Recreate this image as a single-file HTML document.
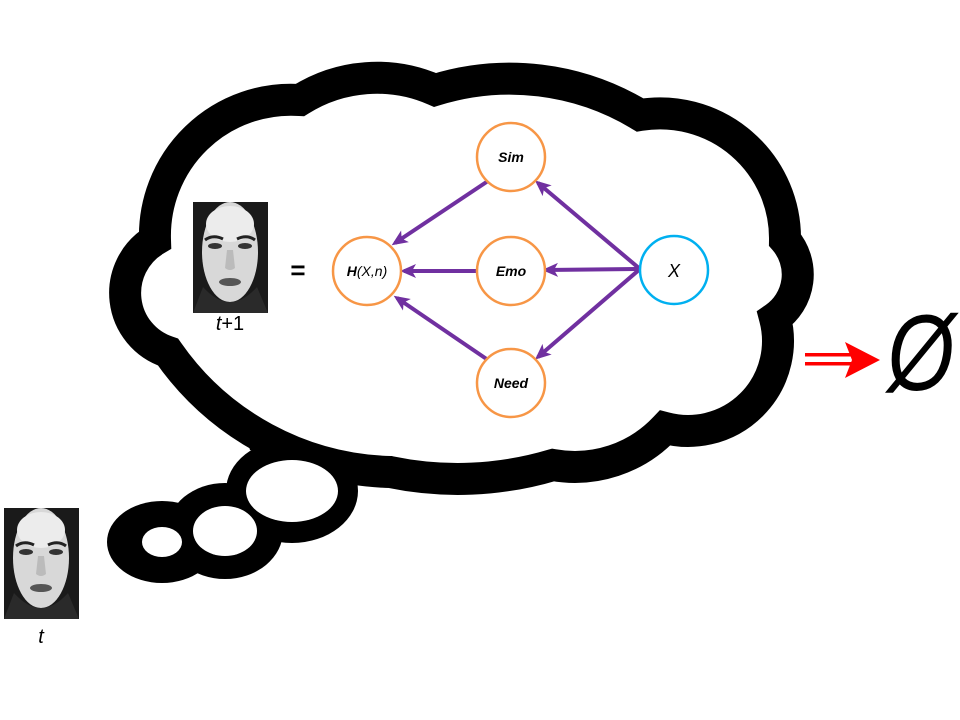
<!DOCTYPE html>
<html><head><meta charset="utf-8"><style>
html,body{margin:0;padding:0;background:#fff;}
svg{display:block;}
text{font-family:"Liberation Sans",sans-serif;}
</style></head><body>
<svg width="960" height="720" viewBox="0 0 960 720" xmlns="http://www.w3.org/2000/svg">
<defs>
<marker id="ah2" markerWidth="16" markerHeight="16" refX="12" refY="8" orient="auto" markerUnits="userSpaceOnUse" viewBox="0 0 16 16">
<path d="M0,1 L16,8 L0,15 L4,8 Z" fill="#7030a0"/>
</marker>
<g id="face">
<rect x="0" y="0" width="75" height="111" fill="#1a1a1a"/>
<ellipse cx="37" cy="50" rx="28" ry="50" fill="#d8d8d8"/>
<ellipse cx="37" cy="22" rx="24" ry="18" fill="#ececec"/>
<path d="M12,38 Q20,32 30,37" stroke="#222" stroke-width="3" fill="none"/>
<path d="M44,37 Q54,32 62,38" stroke="#222" stroke-width="3" fill="none"/>
<ellipse cx="22" cy="44" rx="7" ry="3" fill="#333"/>
<ellipse cx="52" cy="44" rx="7" ry="3" fill="#333"/>
<path d="M34,48 L32,66 Q37,70 42,66 L40,48" fill="#bbb"/>
<ellipse cx="37" cy="80" rx="11" ry="4" fill="#555"/>
<path d="M10,85 Q37,115 64,85 L75,111 L0,111Z" fill="#2a2a2a"/>
</g>
</defs>

<!-- tail black -->
<g fill="#000">
<ellipse cx="292" cy="491" rx="66" ry="52"/>
<ellipse cx="225" cy="531" rx="58" ry="48"/>
<ellipse cx="162" cy="542" rx="55" ry="41"/>
<polygon points="235,400 380,460 330,470 250,450"/>
</g>
<!-- cloud -->
<path d="M155,240 A136,136 0 0 1 300,100 A144,144 0 0 1 435,90 A252,252 0 0 1 640,115 A125,125 0 0 1 785,240 A53,53 0 0 1 775,318 A90,90 0 0 1 665,428 A124,124 0 0 1 553,465 A333,333 0 0 1 390,472 A280,280 0 0 1 168,352 A62,62 0 0 1 155,240 Z" fill="#fff" stroke="#000" stroke-width="32" stroke-linejoin="miter"/>
<g fill="#fff">
<ellipse cx="292" cy="491" rx="46" ry="31"/>
<ellipse cx="225" cy="531" rx="32" ry="25"/>
<ellipse cx="162" cy="542" rx="20" ry="15"/>
</g>

<!-- faces -->
<use href="#face" x="193" y="202"/>
<use href="#face" x="4" y="508"/>
<text x="230" y="330" font-size="20" text-anchor="middle"><tspan font-style="italic">t</tspan>+1</text>
<text x="41" y="643" font-size="20" text-anchor="middle" font-style="italic">t</text>
<text x="298" y="279" font-size="26" font-weight="bold" text-anchor="middle">=</text>

<!-- arrows -->
<g stroke="#7030a0" stroke-width="4" fill="none">
<line x1="488" y1="181" x2="395" y2="243" marker-end="url(#ah2)"/>
<line x1="477" y1="271" x2="404" y2="271" marker-end="url(#ah2)"/>
<line x1="488" y1="360" x2="397" y2="298" marker-end="url(#ah2)"/>
<line x1="640" y1="269" x2="546" y2="270" marker-end="url(#ah2)"/>
<line x1="640" y1="269" x2="538" y2="183" marker-end="url(#ah2)"/>
<line x1="640" y1="269" x2="538" y2="357" marker-end="url(#ah2)"/>
</g>

<!-- nodes -->
<g fill="#fff" stroke="#f79646" stroke-width="2.5">
<ellipse cx="511" cy="157" rx="34" ry="34"/>
<ellipse cx="367" cy="271" rx="34" ry="34"/>
<ellipse cx="511" cy="271" rx="34" ry="34"/>
<ellipse cx="511" cy="383" rx="34" ry="34"/>
</g>
<ellipse cx="674" cy="270" rx="34" ry="34" fill="#fff" stroke="#00b0f0" stroke-width="2.5"/>
<g font-size="14" font-style="italic" text-anchor="middle">
<text x="511" y="162" font-weight="bold">Sim</text>
<text x="511" y="276" font-weight="bold">Emo</text>
<text x="511" y="388" font-weight="bold">Need</text>
<text x="367" y="276"><tspan font-weight="bold">H</tspan>(X,n)</text>
<text x="674" y="277" font-size="18">X</text>
</g>

<!-- red arrow -->
<g fill="#ff0000">
<rect x="805" y="353" width="50" height="3.5"/>
<rect x="805" y="362" width="50" height="3.5"/>
<polygon points="845,342 880,360 845,378 852,360"/>
</g>
<text transform="translate(921,390) scale(0.8,1)" font-size="108" font-style="italic" text-anchor="middle">Ø</text>
</svg>
</body></html>
